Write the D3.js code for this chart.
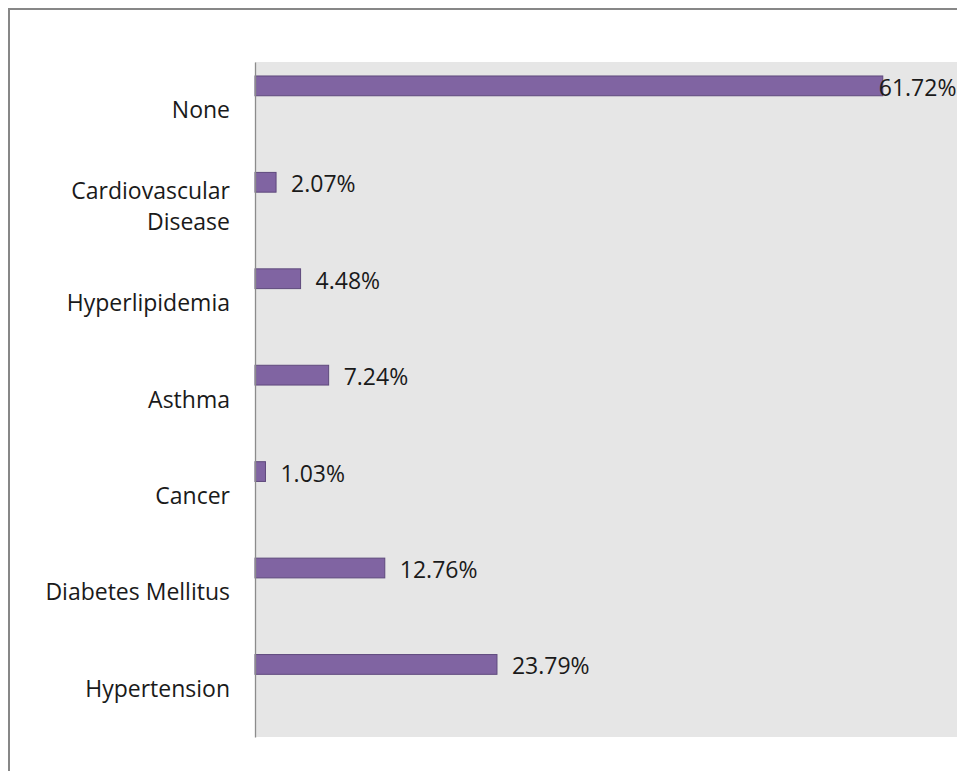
<!DOCTYPE html>
<html><head><meta charset="utf-8">
<script src="https://cdn.jsdelivr.net/npm/d3@7"></script>
<style>html,body{margin:0;padding:0;background:#fff;overflow:hidden}</style>
</head><body>
<svg id="chart" width="957" height="771"></svg>
<script>
const categories = ["None", "Cardiovascular Disease", "Hyperlipidemia", "Asthma", "Cancer", "Diabetes Mellitus", "Hypertension"];
const values = [61.72, 2.07, 4.48, 7.24, 1.03, 12.76, 23.79];
const valueLabels = ["61.72%", "2.07%", "4.48%", "7.24%", "1.03%", "12.76%", "23.79%"];
const xMax = 70;

const W = 957, H = 771;
const plot = {left: 255, top: 62, right: 967, bottom: 737};
const svg = d3.select("#chart");
const font = "'Open Sans', sans-serif";
const fs = 23;

// frame
svg.append("rect").attr("x", 9).attr("y", 9).attr("width", 2000).attr("height", 2000)
  .attr("fill", "#fff").attr("stroke", "#878787").attr("stroke-width", 2);

const x = d3.scaleLinear().domain([0, xMax]).range([plot.left, plot.right]);
const y = d3.scaleBand().domain(categories).range([plot.top, plot.bottom]).padding(0);
const bw = y.bandwidth();

svg.append("rect").attr("x", plot.left).attr("y", plot.top)
  .attr("width", plot.right - plot.left).attr("height", plot.bottom - plot.top)
  .attr("fill", "#e6e6e6");

const data = categories.map((c, i) => ({c, v: values[i], lab: valueLabels[i]}));

svg.selectAll("rect.bar").data(data).join("rect").attr("class", "bar")
  .attr("x", x(0)).attr("y", d => y(d.c) + bw * 0.145)
  .attr("width", d => x(d.v) - x(0)).attr("height", bw * 0.205)
  .attr("fill", "#8064a2").attr("stroke", "#5f4a7d").attr("stroke-width", 1);

// axis line
const yAxis = d3.axisLeft(y).tickSize(0).tickFormat("");
const ax = svg.append("g").attr("transform", `translate(${plot.left},0)`).call(yAxis);
ax.select(".domain").attr("stroke", "#8c8c8c").attr("stroke-width", 1.3);

// category labels
const lab = svg.selectAll("text.cat").data(data).join("text").attr("class", "cat")
  .attr("text-anchor", "end").attr("font-family", font).attr("font-size", fs).attr("fill", "#1a1a1a");
lab.each(function(d) {
  const t = d3.select(this);
  const lines = d.c === "Cardiovascular Disease" ? ["Cardiovascular", "Disease"] : [d.c];
  const cy = y(d.c) + bw / 2;
  const lh = 31;
  lines.forEach((l, i) => {
    t.append("tspan").attr("x", 230).attr("y", cy + (i - (lines.length - 1) / 2) * lh)
      .attr("dy", "0.35em").text(l);
  });
});

// value labels
svg.selectAll("text.val").data(data).join("text").attr("class", "val")
  .attr("font-family", font).attr("font-size", fs).attr("fill", "#1a1a1a")
  .attr("y", d => y(d.c) + bw * 0.145 + bw * 0.1025 + 2).attr("dy", "0.35em")
  .text(d => d.lab)
  .attr("x", function(d) {
    const w = this.getComputedTextLength();
    const xs = x(d.v) + 15;
    return xs + w > W ? x(d.v) - 4 : xs;
  });
</script>
</body></html>
